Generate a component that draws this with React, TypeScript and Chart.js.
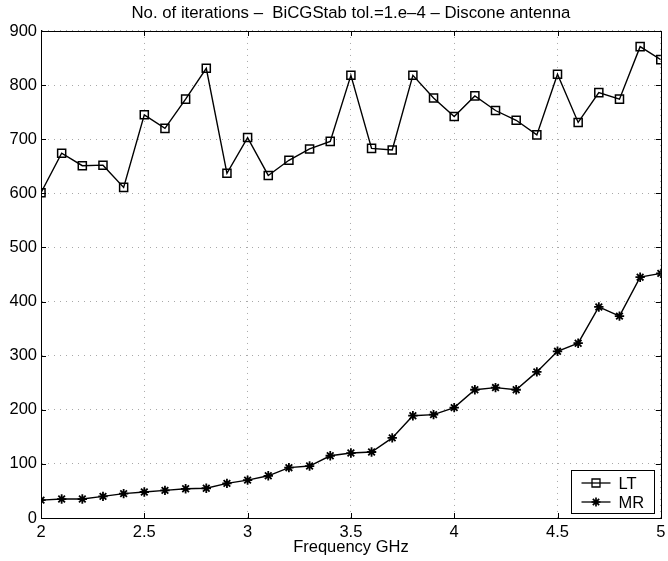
import React, { useEffect, useRef } from "react";
import { Chart, registerables } from "chart.js";

Chart.register(...registerables);

const freqs = [2.0, 2.1, 2.2, 2.3, 2.4, 2.5, 2.6, 2.7, 2.8, 2.9, 3.0, 3.1, 3.2, 3.3, 3.4, 3.5, 3.6, 3.7, 3.8, 3.9, 4.0, 4.1, 4.2, 4.3, 4.4, 4.5, 4.6, 4.7, 4.8, 4.9, 5.0];
const ltValues = [601, 674, 651, 652, 611, 745, 720, 774, 831, 637, 703, 633, 661, 682, 696, 818, 683, 680, 818, 776, 742, 780, 753, 735, 708, 820, 731, 786, 774, 871, 847];
const mrValues = [33, 35, 35, 40, 45, 48, 51, 54, 55, 64, 70, 78, 93, 96, 115, 120, 122, 148, 189, 191, 204, 237, 241, 237, 270, 308, 323, 390, 373, 445, 452];
const seriesLabels = ["LT", "MR"];
const titleText = "No. of iterations \u2013  BiCGStab tol.=1.e\u20134 \u2013 Discone antenna";
const xTitle = "Frequency GHz";

const FONT = "'Liberation Sans', Arial, Helvetica, sans-serif";

function drawMarker(ctx: CanvasRenderingContext2D, style: string, x: number, y: number) {
  ctx.beginPath();
  if (style === "rect") {
    ctx.rect(x - 4, y - 4, 8, 8);
  } else {
    const r = 4.5;
    for (let i = 0; i < 4; i++) {
      const a = (Math.PI / 4) * i;
      ctx.moveTo(x - r * Math.cos(a), y - r * Math.sin(a));
      ctx.lineTo(x + r * Math.cos(a), y + r * Math.sin(a));
    }
  }
  ctx.stroke();
}

const framePlugin = {
  id: "frame",
  afterDatasetsDraw(chart: any) {
    const { ctx, chartArea } = chart;
    const { left, right, top, bottom } = chartArea;
    ctx.save();
    ctx.strokeStyle = "#000";
    ctx.lineWidth = 1;
    ctx.setLineDash([]);
    ctx.strokeRect(Math.round(left) + 0.5, Math.round(top) + 0.5, Math.round(right - left), Math.round(bottom - top));
    const tl = 5;
    ctx.beginPath();
    const xs = chart.scales.x;
    xs.ticks.forEach((t: any) => {
      const px = Math.round(xs.getPixelForValue(t.value)) + 0.5;
      ctx.moveTo(px, bottom);
      ctx.lineTo(px, bottom - tl);
      ctx.moveTo(px, top);
      ctx.lineTo(px, top + tl);
    });
    const ys = chart.scales.y;
    ys.ticks.forEach((t: any) => {
      const py = Math.round(ys.getPixelForValue(t.value)) + 0.5;
      ctx.moveTo(left, py);
      ctx.lineTo(left + tl, py);
      ctx.moveTo(right, py);
      ctx.lineTo(right - tl, py);
    });
    ctx.stroke();

    // legend box
    const bw = 83;
    const bh = 43;
    const bx = Math.round(right - 7 - bw) + 0.5;
    const by = Math.round(bottom - 5 - bh) + 0.5;
    ctx.fillStyle = "#fff";
    ctx.fillRect(bx, by, bw, bh);
    ctx.strokeRect(bx, by, bw, bh);
    const styles = ["rect", "star"];
    ctx.font = `16.5px ${FONT}`;
    ctx.textBaseline = "middle";
    ctx.textAlign = "left";
    ctx.fillStyle = "#000";
    chart.data.datasets.forEach((ds: any, i: number) => {
      const cy = by + 12.5 + i * 19;
      ctx.lineWidth = 1.3;
      ctx.beginPath();
      ctx.moveTo(bx + 10, cy);
      ctx.lineTo(bx + 39, cy);
      ctx.stroke();
      ctx.lineWidth = i === 0 ? 1.3 : 1.7;
      drawMarker(ctx, styles[i], bx + 24.5, cy);
      ctx.fillText(ds.label, bx + 47, cy + 1);
    });
    ctx.restore();
  },
};

export default function App() {
  const ref = useRef<HTMLCanvasElement | null>(null);
  useEffect(() => {
    if (!ref.current) return;
    const gridCommon = {
      color: "#a8a8a8",
      lineWidth: 1,
      drawTicks: false,
    };
    const chart = new Chart(ref.current, {
      type: "line",
      data: {
        datasets: [
          {
            label: seriesLabels[0],
            data: freqs.map((f, i) => ({ x: f, y: ltValues[i] })),
            borderColor: "#000",
            backgroundColor: "rgba(0,0,0,0)",
            borderWidth: 1.4,
            pointStyle: "rect",
            pointRadius: 5.7,
            pointBorderWidth: 1.5,
            pointBorderColor: "#000",
            pointBackgroundColor: "rgba(0,0,0,0)",
            tension: 0,
          },
          {
            label: seriesLabels[1],
            data: freqs.map((f, i) => ({ x: f, y: mrValues[i] })),
            borderColor: "#000",
            backgroundColor: "#000",
            borderWidth: 1.4,
            pointStyle: "star",
            pointRadius: 4.7,
            pointBorderWidth: 1.8,
            pointBorderColor: "#000",
            pointBackgroundColor: "#000",
            tension: 0,
          },
        ],
      },
      options: {
        responsive: false,
        animation: false,
        layout: { padding: { left: 0, right: 4, top: 0, bottom: 0 } },
        plugins: {
          legend: { display: false },
          tooltip: { enabled: false },
          title: {
            display: true,
            text: titleText,
            fullSize: false,
            color: "#000",
            font: { family: FONT, size: 16.8, weight: "normal" },
            padding: { top: 3, bottom: 7.8 },
          },
        },
        scales: {
          x: {
            type: "linear",
            min: 2,
            max: 5,
            ticks: {
              stepSize: 0.5,
              color: "#000",
              font: { family: FONT, size: 16.5 },
              padding: 5,
              maxRotation: 0,
              callback: (v: any) => String(v),
            },
            grid: { ...gridCommon } as any,
            border: { display: true, color: "#000", dash: [1, 5] } as any,
            title: {
              display: true,
              text: xTitle,
              color: "#000",
              font: { family: FONT, size: 16.5 },
              padding: { top: 0, bottom: 3.5 },
            },
            afterFit: (s: any) => {
              s.height = 43;
              s.paddingLeft = 0;
              s.paddingRight = 0;
            },
          },
          y: {
            min: 0,
            max: 900,
            ticks: {
              stepSize: 100,
              color: "#000",
              font: { family: FONT, size: 16.5 },
              padding: 4,
            },
            grid: { ...gridCommon } as any,
            border: { display: true, color: "#000", dash: [1, 5] } as any,
            afterFit: (s: any) => {
              s.width = 41;
              s.paddingTop = 0;
              s.paddingBottom = 0;
            },
          },
        },
      },
      plugins: [framePlugin],
    });
    return () => chart.destroy();
  }, []);
  return (
    <div style={{ position: "fixed", left: 0, top: 0, width: 668, height: 561, background: "#fff" }}>
      <canvas ref={ref} width={668} height={561} style={{ width: 668, height: 561, display: "block" }} />
    </div>
  );
}
